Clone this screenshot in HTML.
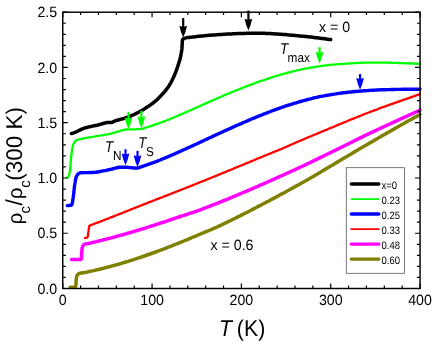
<!DOCTYPE html>
<html><head><meta charset="utf-8"><title>chart</title>
<style>
html,body{margin:0;padding:0;background:#fff;}
body{width:436px;height:342px;position:relative;overflow:hidden;font-family:"Liberation Sans",sans-serif;}
.t{font-family:"Liberation Sans",sans-serif;fill:#000;text-rendering:geometricPrecision;}
</style></head><body>
<svg width="436" height="342" viewBox="0 0 436 342" style="position:absolute;left:0;top:0;will-change:transform">
<rect width="436" height="342" fill="#fff"/>
<g fill="none" stroke-linecap="round" stroke-linejoin="round">
<polyline points="70.2,287.3 72.2,287.3 73.9,287.2 75.1,287.1 75.6,286.9 75.8,286.0 75.9,284.6 76.0,282.8 76.1,280.9 76.3,279.0 76.5,277.3 76.9,275.8 77.8,274.4 78.8,273.6 80.1,273.2 81.6,272.9 83.2,272.7 84.8,272.5 86.3,272.2 87.8,271.9 89.3,271.5 90.7,271.2 92.2,270.9 93.7,270.6 95.2,270.2 96.6,269.9 98.1,269.5 99.6,269.2 101.0,268.8 102.5,268.5 103.9,268.1 105.4,267.7 106.9,267.3 108.3,267.0 109.8,266.6 111.2,266.2 112.7,265.8 114.1,265.4 115.6,265.0 117.0,264.6 118.5,264.2 119.9,263.8 121.4,263.3 122.8,262.9 124.3,262.5 125.7,262.0 127.2,261.6 128.6,261.2 130.0,260.7 131.5,260.3 132.9,259.8 134.4,259.3 135.8,258.9 137.2,258.4 138.6,257.9 140.1,257.5 141.5,257.0 142.9,256.5 144.4,256.0 145.8,255.5 147.2,255.0 148.6,254.5 150.1,254.0 151.5,253.5 152.9,253.0 154.3,252.5 155.7,252.0 157.1,251.5 158.6,250.9 160.0,250.4 161.4,249.9 162.8,249.4 164.2,248.8 165.6,248.3 167.0,247.7 168.4,247.2 169.8,246.6 171.2,246.1 172.6,245.5 174.0,245.0 175.4,244.4 176.8,243.9 178.2,243.3 179.6,242.7 181.0,242.2 182.4,241.6 183.8,241.0 185.2,240.4 186.6,239.9 188.0,239.3 189.4,238.7 190.7,238.1 192.1,237.5 193.5,236.9 194.9,236.3 196.3,235.8 197.7,235.2 199.1,234.6 200.5,234.0 201.9,233.4 203.2,232.9 204.6,232.3 206.0,231.7 207.4,231.1 208.8,230.6 210.2,230.0 211.6,229.4 213.0,228.8 214.4,228.2 215.7,227.6 217.1,227.0 218.5,226.3 219.8,225.7 221.2,225.0 222.6,224.4 223.9,223.7 225.3,223.1 226.6,222.4 228.0,221.8 229.3,221.1 230.7,220.5 232.1,219.8 233.4,219.1 234.8,218.5 236.1,217.8 237.5,217.1 238.8,216.4 240.2,215.8 241.5,215.1 242.8,214.4 244.2,213.7 245.5,213.0 246.9,212.4 248.2,211.7 249.6,211.0 250.9,210.3 252.2,209.6 253.6,208.9 254.9,208.2 256.3,207.5 257.6,206.8 258.9,206.1 260.3,205.4 261.6,204.7 262.9,204.0 264.3,203.3 265.6,202.6 266.9,201.9 268.3,201.2 269.6,200.5 270.9,199.8 272.2,199.1 273.6,198.4 274.9,197.7 276.2,197.0 277.6,196.2 278.9,195.5 280.2,194.8 281.5,194.1 282.9,193.4 284.2,192.7 285.5,191.9 286.8,191.2 288.1,190.5 289.5,189.8 290.8,189.0 292.1,188.3 293.4,187.6 294.7,186.9 296.1,186.1 297.4,185.4 298.7,184.7 300.0,183.9 301.3,183.2 302.7,182.5 304.0,181.7 305.3,181.0 306.6,180.2 307.9,179.5 309.2,178.7 310.5,178.0 311.8,177.2 313.1,176.5 314.4,175.7 315.7,175.0 317.0,174.2 318.3,173.4 319.6,172.7 320.9,171.9 322.2,171.1 323.5,170.4 324.8,169.6 326.1,168.8 327.4,168.1 328.7,167.3 330.0,166.5 331.3,165.7 332.6,165.0 333.9,164.2 335.1,163.4 336.4,162.6 337.7,161.9 339.0,161.1 340.3,160.3 341.6,159.6 342.9,158.8 344.2,158.0 345.5,157.2 346.8,156.5 348.1,155.7 349.4,154.9 350.7,154.2 352.0,153.4 353.3,152.6 354.6,151.9 355.9,151.1 357.2,150.3 358.5,149.6 359.8,148.8 361.1,148.0 362.4,147.3 363.7,146.5 365.0,145.7 366.3,145.0 367.6,144.2 368.9,143.5 370.2,142.7 371.5,141.9 372.8,141.2 374.1,140.4 375.4,139.7 376.7,138.9 378.0,138.2 379.3,137.4 380.6,136.7 381.9,135.9 383.2,135.2 384.5,134.4 385.8,133.7 387.1,132.9 388.4,132.2 389.8,131.4 391.1,130.7 392.4,129.9 393.7,129.2 395.0,128.4 396.3,127.7 397.6,127.0 398.9,126.2 400.2,125.5 401.5,124.7 402.9,124.0 404.2,123.3 405.5,122.5 406.8,121.8 408.1,121.0 409.4,120.3 410.8,119.6 412.1,118.9 413.4,118.1 414.7,117.4 416.0,116.7 417.4,115.9 418.7,115.2 420.0,114.5" stroke="#808000" stroke-width="3.5"/>
<polyline points="71.6,259.4 73.7,259.4 75.7,259.4 77.5,259.4 79.1,259.4 80.2,259.4 80.9,259.4 81.2,259.2 81.4,258.3 81.5,256.9 81.6,255.1 81.7,253.2 81.8,251.2 82.0,249.3 82.2,247.8 82.7,246.2 83.6,244.9 84.6,244.2 86.1,243.9 87.7,243.6 89.2,243.3 90.7,243.0 92.1,242.6 93.6,242.3 95.1,241.9 96.5,241.6 98.0,241.2 99.5,240.8 100.9,240.5 102.4,240.1 103.9,239.7 105.3,239.4 106.8,239.0 108.2,238.6 109.7,238.2 111.2,237.9 112.6,237.5 114.1,237.1 115.5,236.7 117.0,236.3 118.4,235.9 119.9,235.5 121.3,235.1 122.8,234.7 124.3,234.3 125.7,233.9 127.2,233.4 128.6,233.0 130.1,232.6 131.5,232.2 132.9,231.8 134.4,231.3 135.8,230.9 137.3,230.5 138.7,230.0 140.2,229.6 141.6,229.1 143.1,228.7 144.5,228.3 145.9,227.8 147.4,227.4 148.8,226.9 150.2,226.4 151.7,226.0 153.1,225.5 154.6,225.1 156.0,224.6 157.4,224.1 158.9,223.7 160.3,223.2 161.7,222.7 163.2,222.3 164.6,221.8 166.0,221.3 167.5,220.8 168.9,220.3 170.3,219.9 171.7,219.4 173.2,218.9 174.6,218.4 176.0,217.9 177.5,217.5 178.9,217.0 180.3,216.5 181.7,216.0 183.2,215.6 184.6,215.1 186.1,214.6 187.5,214.2 188.9,213.7 190.4,213.2 191.8,212.8 193.2,212.3 194.7,211.8 196.1,211.3 197.5,210.8 198.9,210.3 200.3,209.8 201.7,209.3 203.2,208.7 204.6,208.2 206.0,207.6 207.4,207.1 208.8,206.6 210.2,206.0 211.6,205.5 213.0,204.9 214.4,204.4 215.8,203.8 217.2,203.3 218.6,202.7 220.0,202.2 221.4,201.6 222.8,201.0 224.2,200.5 225.6,199.9 227.0,199.3 228.4,198.8 229.8,198.2 231.2,197.6 232.6,197.0 234.0,196.4 235.4,195.9 236.8,195.3 238.2,194.7 239.5,194.1 240.9,193.5 242.3,192.9 243.7,192.4 245.1,191.8 246.5,191.2 247.9,190.6 249.3,190.0 250.6,189.4 252.0,188.8 253.4,188.2 254.8,187.6 256.2,187.0 257.6,186.4 258.9,185.8 260.3,185.2 261.7,184.6 263.1,184.0 264.5,183.4 265.8,182.8 267.2,182.2 268.6,181.5 270.0,180.9 271.4,180.3 272.7,179.7 274.1,179.1 275.5,178.5 276.9,177.9 278.2,177.2 279.6,176.6 281.0,176.0 282.4,175.4 283.7,174.8 285.1,174.1 286.5,173.5 287.9,172.9 289.2,172.3 290.6,171.6 292.0,171.0 293.4,170.4 294.7,169.8 296.1,169.1 297.5,168.5 298.8,167.9 300.2,167.2 301.6,166.6 302.9,166.0 304.3,165.3 305.7,164.7 307.0,164.0 308.4,163.4 309.8,162.7 311.1,162.1 312.5,161.4 313.8,160.7 315.2,160.1 316.5,159.4 317.9,158.8 319.2,158.1 320.6,157.4 322.0,156.8 323.3,156.1 324.7,155.5 326.0,154.8 327.4,154.1 328.7,153.5 330.1,152.8 331.4,152.2 332.8,151.5 334.2,150.8 335.5,150.2 336.9,149.5 338.2,148.8 339.6,148.2 340.9,147.5 342.3,146.8 343.6,146.2 345.0,145.5 346.3,144.8 347.7,144.2 349.0,143.5 350.4,142.8 351.7,142.1 353.1,141.5 354.4,140.8 355.8,140.1 357.1,139.4 358.5,138.8 359.8,138.1 361.2,137.4 362.5,136.8 363.9,136.1 365.2,135.4 366.6,134.8 368.0,134.1 369.3,133.5 370.7,132.8 372.1,132.2 373.4,131.6 374.8,130.9 376.2,130.3 377.5,129.7 378.9,129.0 380.3,128.4 381.6,127.8 383.0,127.1 384.4,126.5 385.7,125.9 387.1,125.2 388.5,124.6 389.8,124.0 391.2,123.3 392.6,122.7 393.9,122.1 395.3,121.4 396.7,120.8 398.1,120.2 399.4,119.5 400.8,118.9 402.2,118.3 403.5,117.6 404.9,117.0 406.3,116.4 407.6,115.8 409.0,115.1 410.4,114.5 411.8,113.9 413.1,113.3 414.5,112.6 415.9,112.0 417.3,111.4 418.6,110.8 420.0,110.1" stroke="#ff00ff" stroke-width="3.5"/>
<polyline points="85.1,238.0 86.8,237.7 87.5,237.1 87.9,235.8 88.1,234.1 88.3,232.3 88.6,230.7 88.8,229.0 89.0,227.4 89.3,226.1 90.0,225.3 91.5,224.8 93.2,224.3 94.6,223.7 96.0,223.2 97.4,222.7 98.8,222.1 100.2,221.6 101.6,221.0 103.0,220.5 104.4,219.9 105.9,219.4 107.3,218.8 108.7,218.3 110.1,217.7 111.5,217.2 112.9,216.6 114.3,216.1 115.7,215.5 117.1,215.0 118.5,214.4 119.9,213.9 121.3,213.3 122.7,212.8 124.1,212.2 125.5,211.7 126.9,211.1 128.3,210.5 129.7,210.0 131.1,209.4 132.5,208.9 133.9,208.3 135.3,207.7 136.7,207.2 138.1,206.6 139.5,206.1 141.0,205.5 142.4,204.9 143.8,204.4 145.2,203.8 146.6,203.3 148.0,202.7 149.4,202.2 150.8,201.6 152.2,201.1 153.6,200.5 155.0,200.0 156.4,199.4 157.8,198.9 159.2,198.4 160.6,197.8 162.0,197.3 163.5,196.7 164.9,196.2 166.3,195.6 167.7,195.1 169.1,194.5 170.5,194.0 171.9,193.4 173.3,192.9 174.7,192.3 176.1,191.8 177.5,191.2 178.9,190.7 180.3,190.1 181.7,189.6 183.1,189.0 184.5,188.5 185.9,187.9 187.3,187.3 188.8,186.8 190.2,186.2 191.6,185.7 193.0,185.1 194.4,184.5 195.8,184.0 197.2,183.4 198.6,182.9 200.0,182.3 201.4,181.7 202.8,181.2 204.2,180.6 205.6,180.1 207.0,179.5 208.4,178.9 209.8,178.4 211.2,177.8 212.6,177.2 214.0,176.7 215.4,176.1 216.8,175.5 218.2,174.9 219.6,174.4 221.0,173.8 222.4,173.2 223.8,172.6 225.1,172.1 226.5,171.5 227.9,170.9 229.3,170.3 230.7,169.8 232.1,169.2 233.5,168.6 234.9,168.0 236.3,167.4 237.7,166.9 239.1,166.3 240.5,165.7 241.9,165.1 243.3,164.6 244.7,164.0 246.1,163.4 247.5,162.8 248.9,162.3 250.3,161.7 251.7,161.1 253.1,160.5 254.5,160.0 255.8,159.4 257.2,158.8 258.6,158.2 260.0,157.7 261.4,157.1 262.8,156.5 264.2,155.9 265.6,155.4 267.0,154.8 268.4,154.2 269.8,153.6 271.2,153.1 272.6,152.5 274.0,151.9 275.4,151.3 276.8,150.8 278.2,150.2 279.6,149.6 281.0,149.1 282.4,148.5 283.8,147.9 285.2,147.3 286.5,146.7 287.9,146.1 289.3,145.5 290.7,144.9 292.1,144.3 293.5,143.7 294.8,143.0 296.2,142.4 297.6,141.8 299.0,141.2 300.4,140.7 301.8,140.1 303.2,139.5 304.6,138.9 305.9,138.3 307.3,137.7 308.7,137.1 310.1,136.5 311.5,136.0 312.9,135.4 314.3,134.8 315.7,134.2 317.1,133.6 318.5,133.1 319.9,132.5 321.3,131.9 322.7,131.3 324.1,130.7 325.5,130.2 326.9,129.6 328.2,129.0 329.6,128.4 331.0,127.8 332.4,127.3 333.8,126.7 335.2,126.1 336.6,125.5 338.0,124.9 339.4,124.4 340.8,123.8 342.2,123.2 343.6,122.6 345.0,122.0 346.4,121.5 347.8,120.9 349.2,120.3 350.6,119.7 352.0,119.2 353.4,118.6 354.8,118.0 356.2,117.5 357.6,116.9 359.0,116.3 360.4,115.8 361.8,115.2 363.2,114.6 364.6,114.1 366.0,113.5 367.4,113.0 368.8,112.5 370.2,111.9 371.6,111.4 373.0,110.8 374.4,110.3 375.8,109.8 377.3,109.3 378.7,108.7 380.1,108.2 381.5,107.7 382.9,107.2 384.4,106.7 385.8,106.1 387.2,105.6 388.6,105.1 390.0,104.6 391.5,104.1 392.9,103.6 394.3,103.1 395.7,102.6 397.1,102.1 398.6,101.6 400.0,101.1 401.4,100.6 402.8,100.1 404.3,99.6 405.7,99.1 407.1,98.6 408.6,98.1 410.0,97.6 411.4,97.1 412.8,96.6 414.3,96.2 415.7,95.7 417.1,95.2 418.6,94.7 420.0,94.2" stroke="#ff0000" stroke-width="2.3"/>
<polyline points="67.3,205.6 69.2,205.5 70.7,205.4 71.6,205.1 72.0,204.2 72.4,202.7 72.7,200.9 72.9,199.0 73.2,197.5 73.4,196.0 73.6,194.5 73.8,193.0 73.9,191.5 74.1,190.0 74.2,188.5 74.4,187.0 74.6,185.5 74.8,184.0 75.1,182.5 75.3,181.0 75.6,179.4 76.0,177.8 76.5,176.4 77.0,175.3 78.0,174.2 79.3,173.2 80.8,172.7 82.2,172.7 83.6,172.6 85.1,172.6 86.6,172.6 88.2,172.6 89.8,172.5 91.3,172.5 92.8,172.5 94.3,172.4 95.8,172.2 97.3,172.0 98.8,171.8 100.3,171.5 101.8,171.2 103.2,170.9 104.7,170.6 106.2,170.3 107.7,170.0 109.2,169.6 110.6,169.3 112.1,169.0 113.6,168.6 115.0,168.2 116.5,167.8 118.0,167.5 119.5,167.3 121.0,167.3 122.5,167.3 124.0,167.2 125.5,167.2 127.0,167.3 128.5,167.4 130.0,167.6 131.5,167.7 133.0,167.9 134.5,168.0 136.0,168.1 137.5,168.0 138.9,167.6 140.4,167.1 141.8,166.6 143.2,166.1 144.7,165.7 146.1,165.2 147.5,164.7 149.0,164.2 150.4,163.7 151.8,163.2 153.2,162.7 154.6,162.1 156.0,161.6 157.4,161.1 158.8,160.5 160.2,160.0 161.6,159.4 163.0,158.8 164.4,158.2 165.8,157.7 167.2,157.1 168.6,156.5 170.0,155.9 171.3,155.3 172.7,154.7 174.1,154.1 175.5,153.5 176.8,152.9 178.2,152.2 179.6,151.6 181.0,151.0 182.3,150.4 183.7,149.8 185.1,149.2 186.5,148.5 187.8,147.9 189.2,147.3 190.6,146.7 192.0,146.1 193.3,145.4 194.7,144.8 196.1,144.2 197.4,143.5 198.8,142.9 200.2,142.3 201.5,141.6 202.9,141.0 204.3,140.3 205.6,139.7 207.0,139.1 208.3,138.4 209.7,137.8 211.1,137.2 212.4,136.5 213.8,135.9 215.2,135.3 216.5,134.6 217.9,134.0 219.3,133.4 220.6,132.7 222.0,132.1 223.4,131.5 224.8,130.8 226.1,130.2 227.5,129.6 228.9,129.0 230.2,128.4 231.6,127.7 233.0,127.1 234.4,126.5 235.7,125.9 237.1,125.3 238.5,124.7 239.9,124.1 241.3,123.5 242.6,122.9 244.0,122.3 245.4,121.7 246.8,121.1 248.2,120.5 249.6,119.9 251.0,119.3 252.3,118.7 253.7,118.2 255.1,117.6 256.5,117.0 257.9,116.4 259.3,115.9 260.7,115.3 262.1,114.8 263.5,114.2 264.9,113.7 266.3,113.1 267.7,112.6 269.1,112.0 270.5,111.5 271.9,110.9 273.4,110.4 274.8,109.9 276.2,109.4 277.6,108.9 279.0,108.4 280.4,107.9 281.9,107.4 283.3,106.9 284.7,106.4 286.1,105.9 287.6,105.4 289.0,105.0 290.4,104.5 291.9,104.1 293.3,103.6 294.8,103.2 296.2,102.8 297.6,102.3 299.1,101.9 300.5,101.5 302.0,101.1 303.4,100.7 304.9,100.3 306.3,99.9 307.8,99.5 309.3,99.1 310.7,98.8 312.2,98.4 313.6,98.0 315.1,97.7 316.6,97.4 318.1,97.0 319.5,96.7 321.0,96.4 322.5,96.1 324.0,95.9 325.4,95.6 326.9,95.3 328.4,95.1 329.9,94.8 331.4,94.6 332.9,94.3 334.4,94.1 335.8,93.9 337.3,93.6 338.8,93.4 340.3,93.2 341.8,93.0 343.3,92.8 344.8,92.6 346.3,92.5 347.8,92.3 349.3,92.1 350.8,92.0 352.3,91.8 353.8,91.7 355.3,91.5 356.8,91.4 358.3,91.2 359.8,91.1 361.3,91.0 362.8,90.9 364.3,90.8 365.8,90.7 367.3,90.6 368.8,90.5 370.3,90.4 371.8,90.3 373.3,90.2 374.8,90.1 376.3,90.0 377.8,90.0 379.3,89.9 380.8,89.8 382.3,89.8 383.9,89.7 385.4,89.7 386.9,89.6 388.4,89.6 389.9,89.6 391.4,89.5 392.9,89.5 394.4,89.5 395.9,89.4 397.4,89.4 398.9,89.4 400.4,89.4 401.9,89.3 403.4,89.3 404.9,89.3 406.4,89.3 407.9,89.3 409.5,89.3 411.0,89.3 412.5,89.3 414.0,89.3 415.5,89.3 417.0,89.3 418.5,89.3 420.0,89.2" stroke="#0000ff" stroke-width="3.4"/>
<polyline points="67.0,177.5 68.3,177.0 68.9,175.8 69.4,174.1 69.6,172.6 69.9,171.1 70.1,169.6 70.2,168.1 70.4,166.6 70.5,165.1 70.6,163.6 70.7,162.1 70.9,160.5 71.0,159.0 71.1,157.5 71.3,156.0 71.5,154.5 71.7,153.0 71.9,151.5 72.1,149.9 72.3,148.4 72.6,146.9 72.9,145.5 73.4,144.2 74.2,142.7 75.1,141.4 76.2,140.4 77.3,139.9 78.7,139.4 80.2,139.1 81.8,138.8 83.4,138.5 84.9,138.2 86.4,137.9 87.9,137.6 89.3,137.3 90.8,137.1 92.3,136.8 93.8,136.6 95.3,136.3 96.8,136.1 98.3,135.9 99.8,135.6 101.3,135.4 102.8,135.2 104.3,134.9 105.7,134.6 107.2,134.4 108.7,134.1 110.2,133.8 111.7,133.5 113.1,133.1 114.6,132.7 116.1,132.2 117.5,131.7 119.0,131.3 120.4,130.8 121.9,130.4 123.3,130.0 124.8,129.7 126.3,129.5 127.8,129.4 129.3,129.4 130.8,129.3 132.3,129.3 133.8,129.3 135.3,129.3 136.8,129.2 138.4,129.2 139.9,129.1 141.3,129.0 142.8,128.6 144.2,128.1 145.7,127.7 147.1,127.2 148.6,126.8 150.0,126.3 151.5,125.9 152.9,125.4 154.3,124.9 155.7,124.4 157.2,123.9 158.6,123.4 160.0,122.9 161.4,122.4 162.8,121.8 164.3,121.3 165.7,120.8 167.1,120.2 168.5,119.6 169.9,119.1 171.3,118.5 172.7,117.9 174.1,117.4 175.5,116.8 176.8,116.2 178.2,115.6 179.6,115.0 181.0,114.4 182.4,113.8 183.8,113.2 185.2,112.6 186.6,112.0 187.9,111.4 189.3,110.8 190.7,110.2 192.1,109.6 193.4,108.9 194.8,108.3 196.2,107.7 197.6,107.1 199.0,106.5 200.3,105.8 201.7,105.2 203.1,104.6 204.5,104.0 205.8,103.4 207.2,102.7 208.6,102.1 210.0,101.5 211.4,100.9 212.7,100.3 214.1,99.7 215.5,99.1 216.9,98.5 218.3,97.9 219.7,97.3 221.1,96.7 222.4,96.1 223.8,95.5 225.2,94.9 226.6,94.4 228.0,93.8 229.4,93.2 230.8,92.6 232.2,92.0 233.6,91.5 235.0,90.9 236.4,90.3 237.8,89.8 239.2,89.2 240.6,88.6 242.0,88.1 243.4,87.5 244.8,87.0 246.2,86.4 247.6,85.9 249.0,85.4 250.4,84.8 251.9,84.3 253.3,83.8 254.7,83.3 256.1,82.7 257.5,82.2 259.0,81.7 260.4,81.2 261.8,80.7 263.2,80.3 264.7,79.8 266.1,79.3 267.5,78.8 269.0,78.3 270.4,77.9 271.8,77.4 273.3,76.9 274.7,76.5 276.2,76.0 277.6,75.6 279.1,75.2 280.5,74.7 282.0,74.3 283.4,73.9 284.9,73.5 286.3,73.1 287.8,72.7 289.2,72.3 290.7,72.0 292.2,71.6 293.6,71.2 295.1,70.9 296.6,70.5 298.0,70.2 299.5,69.9 301.0,69.5 302.5,69.2 303.9,68.9 305.4,68.6 306.9,68.3 308.4,68.1 309.9,67.8 311.4,67.5 312.9,67.3 314.3,67.0 315.8,66.8 317.3,66.6 318.8,66.4 320.3,66.1 321.8,65.9 323.3,65.7 324.8,65.6 326.3,65.4 327.8,65.2 329.3,65.0 330.8,64.9 332.3,64.7 333.8,64.6 335.3,64.5 336.8,64.3 338.3,64.2 339.8,64.1 341.3,64.0 342.8,63.9 344.4,63.8 345.9,63.7 347.4,63.6 348.9,63.5 350.4,63.4 351.9,63.3 353.4,63.2 354.9,63.1 356.4,63.0 357.9,62.9 359.4,62.9 360.9,62.8 362.4,62.8 364.0,62.7 365.5,62.7 367.0,62.7 368.5,62.6 370.0,62.6 371.5,62.6 373.0,62.6 374.5,62.6 376.0,62.6 377.5,62.6 379.1,62.6 380.6,62.6 382.1,62.6 383.6,62.6 385.1,62.6 386.6,62.6 388.1,62.7 389.6,62.7 391.1,62.8 392.6,62.8 394.1,62.8 395.7,62.9 397.2,62.9 398.7,63.0 400.2,63.1 401.7,63.1 403.2,63.2 404.7,63.2 406.2,63.3 407.7,63.3 409.2,63.4 410.7,63.5 412.3,63.5 413.8,63.6 415.3,63.6 416.8,63.7 418.3,63.8 419.8,63.8" stroke="#00ff00" stroke-width="2.3"/>
<polyline points="71.4,133.5 72.9,133.1 74.3,132.6 75.7,132.1 77.1,131.5 78.4,130.8 79.8,130.1 81.1,129.4 82.5,128.8 83.9,128.3 85.3,127.9 86.8,127.5 88.2,127.1 89.7,126.8 91.2,126.4 92.7,126.1 94.2,125.8 95.6,125.5 97.1,125.2 98.6,124.8 100.1,124.4 101.5,124.0 103.0,123.5 104.5,123.1 105.9,122.8 107.4,122.6 108.9,122.6 110.4,122.6 111.9,122.5 113.2,121.8 114.6,121.2 116.0,120.7 117.5,120.2 118.9,119.8 120.4,119.4 121.9,119.0 123.3,118.6 124.8,118.2 126.2,117.7 127.6,117.2 129.0,116.7 130.4,116.1 131.8,115.5 133.2,114.9 134.6,114.3 135.9,113.6 137.3,112.9 138.6,112.2 139.9,111.5 141.3,110.7 142.6,110.0 143.9,109.2 145.1,108.4 146.4,107.6 147.7,106.8 149.0,106.0 150.2,105.1 151.4,104.2 152.7,103.3 153.8,102.4 155.0,101.4 156.2,100.5 157.3,99.5 158.3,98.4 159.4,97.3 160.4,96.2 161.5,95.1 162.5,94.0 163.5,92.9 164.5,91.8 165.5,90.6 166.4,89.4 167.3,88.2 168.2,87.0 169.1,85.7 169.8,84.4 170.6,83.1 171.3,81.8 172.0,80.5 172.6,79.1 173.3,77.7 173.9,76.4 174.5,75.0 175.1,73.6 175.7,72.2 176.2,70.8 176.7,69.4 177.2,67.9 177.7,66.5 178.2,65.1 178.6,63.6 179.1,62.2 179.5,60.7 180.0,59.3 180.3,57.8 180.7,56.4 180.9,54.9 181.2,53.4 181.5,51.9 181.7,50.4 181.9,48.9 182.0,47.4 182.1,45.9 182.2,44.3 182.2,42.8 182.3,41.3 182.5,39.9 183.3,38.8 184.4,38.3 185.7,37.9 187.2,37.6 188.8,37.4 190.5,37.2 192.1,37.1 193.8,36.9 195.3,36.7 196.8,36.5 198.3,36.3 199.8,36.2 201.3,36.0 202.8,35.9 204.3,35.7 205.8,35.6 207.4,35.4 208.9,35.3 210.4,35.2 211.9,35.1 213.4,35.0 214.9,34.9 216.4,34.8 217.9,34.7 219.4,34.6 220.9,34.5 222.4,34.4 223.9,34.3 225.4,34.2 226.9,34.1 228.4,34.0 229.9,33.9 231.4,33.9 233.0,33.8 234.5,33.7 236.0,33.7 237.5,33.6 239.0,33.6 240.5,33.5 242.0,33.4 243.5,33.4 245.0,33.4 246.5,33.3 248.0,33.3 249.5,33.3 251.0,33.3 252.6,33.2 254.1,33.2 255.6,33.2 257.1,33.2 258.6,33.2 260.1,33.2 261.6,33.2 263.1,33.2 264.6,33.3 266.1,33.4 267.6,33.4 269.1,33.5 270.7,33.6 272.2,33.7 273.7,33.8 275.2,33.9 276.7,34.0 278.2,34.1 279.7,34.2 281.2,34.3 282.7,34.4 284.2,34.5 285.7,34.6 287.2,34.8 288.7,34.9 290.2,35.0 291.7,35.2 293.2,35.3 294.7,35.4 296.2,35.6 297.7,35.7 299.2,35.9 300.7,36.0 302.2,36.2 303.7,36.3 305.2,36.5 306.7,36.6 308.2,36.8 309.7,37.0 311.2,37.1 312.7,37.3 314.2,37.5 315.7,37.7 317.2,37.8 318.7,38.0 320.2,38.2 321.7,38.4 323.2,38.6 324.7,38.8 326.2,39.0 327.7,39.2 329.2,39.4 330.7,39.6" stroke="#000000" stroke-width="3.5"/>
</g>
<path d="M62.75,288.5 v-5.0 M62.75,12.2 v5.0 M80.61,288.5 v-2.9 M80.61,12.2 v2.9 M98.48,288.5 v-2.9 M98.48,12.2 v2.9 M116.34,288.5 v-2.9 M116.34,12.2 v2.9 M134.21,288.5 v-2.9 M134.21,12.2 v2.9 M152.07,288.5 v-5.0 M152.07,12.2 v5.0 M169.94,288.5 v-2.9 M169.94,12.2 v2.9 M187.81,288.5 v-2.9 M187.81,12.2 v2.9 M205.67,288.5 v-2.9 M205.67,12.2 v2.9 M223.53,288.5 v-2.9 M223.53,12.2 v2.9 M241.40,288.5 v-5.0 M241.40,12.2 v5.0 M259.26,288.5 v-2.9 M259.26,12.2 v2.9 M277.13,288.5 v-2.9 M277.13,12.2 v2.9 M295.00,288.5 v-2.9 M295.00,12.2 v2.9 M312.86,288.5 v-2.9 M312.86,12.2 v2.9 M330.73,288.5 v-5.0 M330.73,12.2 v5.0 M348.59,288.5 v-2.9 M348.59,12.2 v2.9 M366.45,288.5 v-2.9 M366.45,12.2 v2.9 M384.32,288.5 v-2.9 M384.32,12.2 v2.9 M402.19,288.5 v-2.9 M402.19,12.2 v2.9 M420.05,288.5 v-5.0 M420.05,12.2 v5.0 M62.75,288.50 h5.0 M420.05,288.50 h-5.0 M62.75,277.45 h3.1 M420.05,277.45 h-3.1 M62.75,266.40 h3.1 M420.05,266.40 h-3.1 M62.75,255.34 h3.1 M420.05,255.34 h-3.1 M62.75,244.29 h3.1 M420.05,244.29 h-3.1 M62.75,233.24 h5.0 M420.05,233.24 h-5.0 M62.75,222.19 h3.1 M420.05,222.19 h-3.1 M62.75,211.14 h3.1 M420.05,211.14 h-3.1 M62.75,200.08 h3.1 M420.05,200.08 h-3.1 M62.75,189.03 h3.1 M420.05,189.03 h-3.1 M62.75,177.98 h5.0 M420.05,177.98 h-5.0 M62.75,166.93 h3.1 M420.05,166.93 h-3.1 M62.75,155.88 h3.1 M420.05,155.88 h-3.1 M62.75,144.82 h3.1 M420.05,144.82 h-3.1 M62.75,133.77 h3.1 M420.05,133.77 h-3.1 M62.75,122.72 h5.0 M420.05,122.72 h-5.0 M62.75,111.67 h3.1 M420.05,111.67 h-3.1 M62.75,100.62 h3.1 M420.05,100.62 h-3.1 M62.75,89.56 h3.1 M420.05,89.56 h-3.1 M62.75,78.51 h3.1 M420.05,78.51 h-3.1 M62.75,67.46 h5.0 M420.05,67.46 h-5.0 M62.75,56.41 h3.1 M420.05,56.41 h-3.1 M62.75,45.36 h3.1 M420.05,45.36 h-3.1 M62.75,34.30 h3.1 M420.05,34.30 h-3.1 M62.75,23.25 h3.1 M420.05,23.25 h-3.1 M62.75,12.20 h5.0 M420.05,12.20 h-5.0" stroke="#000" stroke-width="1.2" fill="none"/>
<rect x="62.75" y="12.2" width="357.3" height="276.3" fill="none" stroke="#000" stroke-width="1.45"/>
<line x1="183.2" y1="18.0" x2="183.2" y2="27.9" stroke="#000" stroke-width="2.2"/><path d="M183.2,37.6 Q180.46,31.41 179.40,25.70 L183.2,26.90 L187.00,25.70 Q185.94,31.41 183.2,37.6 Z" fill="#000"/>
<line x1="248.4" y1="10.6" x2="248.4" y2="20.9" stroke="#000" stroke-width="2.2"/><path d="M248.4,30.6 Q245.66,24.41 244.60,18.70 L248.4,19.90 L252.20,18.70 Q251.14,24.41 248.4,30.6 Z" fill="#000"/>
<line x1="128.5" y1="111.9" x2="128.5" y2="119.6" stroke="#00ff00" stroke-width="2.2"/><path d="M128.5,129.3 Q125.76,123.11 124.70,117.40 L128.5,118.60 L132.30,117.40 Q131.24,123.11 128.5,129.3 Z" fill="#00ff00"/>
<line x1="141.4" y1="110.8" x2="141.4" y2="118.8" stroke="#00ff00" stroke-width="2.2"/><path d="M141.4,128.5 Q138.66,122.31 137.60,116.60 L141.4,117.80 L145.20,116.60 Q144.14,122.31 141.4,128.5 Z" fill="#00ff00"/>
<line x1="319.6" y1="47.2" x2="319.6" y2="53.9" stroke="#00ff00" stroke-width="2.2"/><path d="M319.6,63.6 Q316.86,57.41 315.80,51.70 L319.6,52.90 L323.40,51.70 Q322.34,57.41 319.6,63.6 Z" fill="#00ff00"/>
<line x1="125.5" y1="149.3" x2="125.5" y2="155.6" stroke="#0000ff" stroke-width="2.2"/><path d="M125.5,165.3 Q122.76,159.11 121.70,153.40 L125.5,154.60 L129.30,153.40 Q128.24,159.11 125.5,165.3 Z" fill="#0000ff"/>
<line x1="137.5" y1="150.9" x2="137.5" y2="157.5" stroke="#0000ff" stroke-width="2.2"/><path d="M137.5,167.2 Q134.76,161.01 133.70,155.30 L137.5,156.50 L141.30,155.30 Q140.24,161.01 137.5,167.2 Z" fill="#0000ff"/>
<line x1="360.1" y1="74.1" x2="360.1" y2="80.1" stroke="#0000ff" stroke-width="2.2"/><path d="M360.1,89.8 Q357.36,83.61 356.30,77.90 L360.1,79.10 L363.90,77.90 Q362.84,83.61 360.1,89.8 Z" fill="#0000ff"/>
<rect x="346.3" y="167.7" width="58.3" height="105.6" fill="#fff" stroke="#555" stroke-width="0.8"/>
<line x1="351.3" y1="184" x2="378.8" y2="184" stroke="#000" stroke-width="3.3" stroke-linecap="round"/>
<text transform="translate(381.50,188.90) scale(1,1.13)" font-size="9.5" text-anchor="start" class="t" >x=0</text>
<line x1="351.3" y1="199.1" x2="378.8" y2="199.1" stroke="#00ff00" stroke-width="1.6" stroke-linecap="round"/>
<text transform="translate(381.50,204.00) scale(1,1.13)" font-size="9.5" text-anchor="start" class="t" >0.23</text>
<line x1="351.3" y1="214.0" x2="378.8" y2="214.0" stroke="#0000ff" stroke-width="3.3" stroke-linecap="round"/>
<text transform="translate(381.50,218.90) scale(1,1.13)" font-size="9.5" text-anchor="start" class="t" >0.25</text>
<line x1="351.3" y1="229.05" x2="378.8" y2="229.05" stroke="#ff0000" stroke-width="1.8" stroke-linecap="round"/>
<text transform="translate(381.50,233.95) scale(1,1.13)" font-size="9.5" text-anchor="start" class="t" >0.33</text>
<line x1="351.3" y1="244.1" x2="378.8" y2="244.1" stroke="#ff00ff" stroke-width="3.4" stroke-linecap="round"/>
<text transform="translate(381.50,249.00) scale(1,1.13)" font-size="9.5" text-anchor="start" class="t" >0.48</text>
<line x1="351.3" y1="259.1" x2="378.8" y2="259.1" stroke="#808000" stroke-width="3.4" stroke-linecap="round"/>
<text transform="translate(381.50,264.00) scale(1,1.13)" font-size="9.5" text-anchor="start" class="t" >0.60</text>
<text transform="translate(62.75,305.00) scale(1,1.05)" font-size="14.2" text-anchor="middle" class="t" >0</text>
<text transform="translate(152.07,305.00) scale(1,1.05)" font-size="14.2" text-anchor="middle" class="t" >100</text>
<text transform="translate(241.40,305.00) scale(1,1.05)" font-size="14.2" text-anchor="middle" class="t" >200</text>
<text transform="translate(330.73,305.00) scale(1,1.05)" font-size="14.2" text-anchor="middle" class="t" >300</text>
<text transform="translate(420.05,305.00) scale(1,1.05)" font-size="14.2" text-anchor="middle" class="t" >400</text>
<text transform="translate(57.20,293.75) scale(1,1.05)" font-size="14.2" text-anchor="end" class="t" >0.0</text>
<text transform="translate(57.20,238.49) scale(1,1.05)" font-size="14.2" text-anchor="end" class="t" >0.5</text>
<text transform="translate(57.20,183.23) scale(1,1.05)" font-size="14.2" text-anchor="end" class="t" >1.0</text>
<text transform="translate(57.20,127.97) scale(1,1.05)" font-size="14.2" text-anchor="end" class="t" >1.5</text>
<text transform="translate(57.20,72.71) scale(1,1.05)" font-size="14.2" text-anchor="end" class="t" >2.0</text>
<text transform="translate(57.20,17.45) scale(1,1.05)" font-size="14.2" text-anchor="end" class="t" >2.5</text>
<text transform="translate(218.90,336.00) scale(1,1.07)" font-size="21.3" text-anchor="start" class="t" word-spacing="-1"><tspan font-style="italic">T</tspan> (K)</text>
<text transform="translate(22.4,224.3) rotate(-90) scale(1,1)" font-size="20.3" class="t">ρ</text>
<text transform="translate(30.4,213.6) rotate(-90) scale(1,1)" font-size="15" class="t">c</text>
<text transform="translate(22.2,205.4) rotate(-90) scale(0.965,1)" font-size="23.0" class="t">/</text>
<text transform="translate(22.4,199.0) rotate(-90) scale(1,1)" font-size="20.3" class="t">ρ</text>
<text transform="translate(30.4,187.7) rotate(-90) scale(1,1)" font-size="15" class="t">c</text>
<text transform="translate(22.2,180.7) rotate(-90) scale(0.986,1)" font-size="22.8" class="t">(300 K)</text>
<text transform="translate(319.00,32.20) scale(1,1.05)" font-size="14.2" text-anchor="start" class="t" >x = 0</text>
<text transform="translate(210.50,250.40) scale(1,1.05)" font-size="14.2" text-anchor="start" class="t" >x = 0.6</text>
<text transform="translate(280.00,53.80) scale(1,1.17)" font-size="13.4" text-anchor="start" class="t" font-style="italic">T</text><text transform="translate(287.60,62.00) scale(1,1.1)" font-size="11.8" text-anchor="start" class="t" >max</text>
<text transform="translate(105.00,151.80) scale(1,1.17)" font-size="13.4" text-anchor="start" class="t" font-style="italic">T</text><text transform="translate(113.00,160.10) scale(1,1.1)" font-size="11.8" text-anchor="start" class="t" >N</text>
<text transform="translate(138.20,147.70) scale(1,1.17)" font-size="13.4" text-anchor="start" class="t" font-style="italic">T</text><text transform="translate(145.90,156.10) scale(1,1.1)" font-size="11.8" text-anchor="start" class="t" >S</text>
</svg>
</body></html>
